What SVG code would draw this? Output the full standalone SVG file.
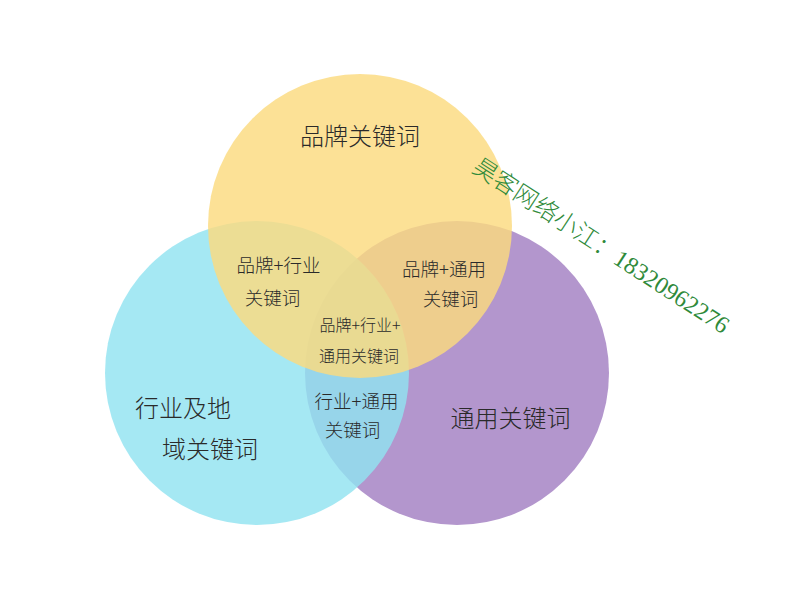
<svg xmlns="http://www.w3.org/2000/svg" width="797" height="592" viewBox="0 0 797 592">
<style>
.t{font-family:"Noto Sans CJK SC","Noto Sans",sans-serif;font-weight:300;fill:#2a2a2a;text-anchor:middle;dominant-baseline:central}
.big{font-size:24px}
.mid{font-size:18.5px}
.sm{font-size:16px}
.wm{font-family:"Liberation Serif","Noto Sans CJK SC",serif;font-weight:300;font-size:24px;fill:#2f8a3a}
</style>
<rect width="797" height="592" fill="#fff"/>
<g id="purple">
<circle cx="457" cy="373" r="152" fill="#b396cd"/>
</g>
<g id="cyan">
<circle cx="257" cy="373" r="152" fill="#91e3f0" fill-opacity="0.82"/>
</g>
<g id="yellow">
<circle cx="360" cy="226" r="152" fill="#fbdb7f" fill-opacity="0.82"/>
</g>
<g id="labels">
<text class="t big" x="360" y="134.5">品牌关键词</text>
<text class="t big" x="183" y="406.5">行业及地</text>
<text class="t big" x="210" y="447">域关键词</text>
<text class="t big" x="510.5" y="416">通用关键词</text>
<text class="t mid" x="278.5" y="263.5">品牌+行业</text>
<text class="t mid" x="272.5" y="297">关键词</text>
<text class="t mid" x="444" y="267.5">品牌+通用</text>
<text class="t mid" x="450.5" y="297.5">关键词</text>
<text class="t sm" x="360" y="324">品牌+行业+</text>
<text class="t sm" x="359" y="355">通用关键词</text>
<text class="t mid" x="356.5" y="400">行业+通用</text>
<text class="t mid" x="352.5" y="428.5">关键词</text>
</g>
<g id="watermark">
<text class="wm" transform="translate(471,171) rotate(33)">昊客网络小江：18320962276</text>
</g>
</svg>
